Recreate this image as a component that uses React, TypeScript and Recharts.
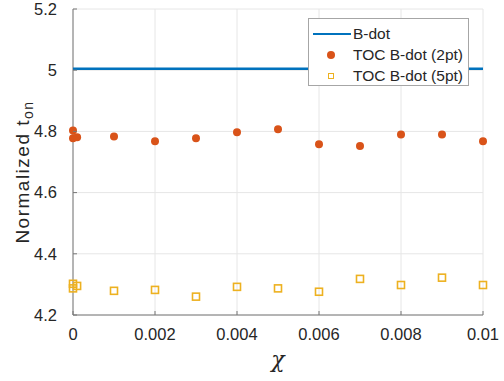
import { CartesianGrid, Scatter, ScatterChart, XAxis, YAxis } from "recharts";

const chiValues = [0, 0, 0.0001, 0.001, 0.002, 0.003, 0.004, 0.005, 0.006, 0.007, 0.008, 0.009, 0.01];
const toc2pt = [4.803, 4.778, 4.781, 4.783, 4.768, 4.778, 4.797, 4.807, 4.758, 4.752, 4.79, 4.79, 4.768];
const toc5pt = [4.302, 4.287, 4.295, 4.279, 4.282, 4.26, 4.292, 4.287, 4.276, 4.318, 4.298, 4.322, 4.298];
const bdotChi = [0, 0.01];
const bdotValue = [5.005, 5.005];

const xTicks = [0, 0.002, 0.004, 0.006, 0.008, 0.01];
const yTicks = [4.2, 4.4, 4.6, 4.8, 5, 5.2];
const legendLabels = ["B-dot", "TOC B-dot (2pt)", "TOC B-dot (5pt)"];

const BLUE = "#0072BD";
const ORANGE = "#D95319";
const YELLOW = "#EDB120";
const TEXT = "#262626";
const FONT = "'Liberation Sans', Arial, sans-serif";
const X_MARGIN = 13;
const Y_MARGIN = 16;

const bdotData = bdotChi.map((x, i) => ({ x, y: bdotValue[i] }));
const data2pt = chiValues.map((x, i) => ({ x, y: toc2pt[i] }));
const data5pt = chiValues.map((x, i) => ({ x, y: toc5pt[i] }));

const Dot = (p: any) => <circle cx={p.cx} cy={p.cy} r={4} fill={ORANGE} />;
const Square = (p: any) => (
  <rect x={p.cx - 3.5} y={p.cy - 3.5} width={7} height={7} fill="none" stroke={YELLOW} strokeWidth={1.6} />
);
const NoMark = () => <g />;

// MATLAB-style ticks point inward
const XTick = (p: any) => {
  const axisY = p.y - X_MARGIN;
  return (
    <g>
      <line x1={p.x} x2={p.x} y1={axisY} y2={axisY - 4} stroke="#777" />
      <text x={p.x} y={p.y} dy="0.71em" textAnchor="middle" fill={TEXT} fontSize={16.5} fontFamily={FONT}>
        {String(p.payload.value)}
      </text>
    </g>
  );
};

const YTick = (p: any) => {
  const axisX = p.x + Y_MARGIN;
  return (
    <g>
      <line x1={axisX} x2={axisX + 4} y1={p.y} y2={p.y} stroke="#777" />
      <text x={p.x} y={p.y} dy="0.35em" textAnchor="end" fill={TEXT} fontSize={16.5} fontFamily={FONT}>
        {String(p.payload.value)}
      </text>
    </g>
  );
};

function LegendBox() {
  const rows = [15, 36, 57];
  const samples = [
    <div style={{ position: "absolute", left: 4, top: -1.25, width: 38, height: 2.5, background: BLUE }} />,
    <div style={{ position: "absolute", left: 18, top: -4, width: 8, height: 8, borderRadius: 4, background: ORANGE }} />,
    <div style={{ position: "absolute", left: 18.5, top: -3.5, width: 4.6, height: 4.6, border: `1.6px solid ${YELLOW}` }} />,
  ];
  return (
    <div
      style={{
        position: "absolute",
        left: 308,
        top: 18,
        width: 161,
        height: 68,
        boxSizing: "border-box",
        background: "#fff",
        border: "1px solid #a6a6a6",
        fontFamily: FONT,
        fontSize: 15.5,
        color: TEXT,
      }}
    >
      {legendLabels.map((label, i) => (
        <div key={label} style={{ position: "absolute", left: 0, top: rows[i], width: "100%", height: 0 }}>
          {samples[i]}
          <span style={{ position: "absolute", left: 44, top: -9, lineHeight: "18px", whiteSpace: "nowrap" }}>
            {label}
          </span>
        </div>
      ))}
    </div>
  );
}

export default function App() {
  return (
    <div style={{ position: "fixed", left: 0, top: 0, width: 504, height: 381, background: "#fff" }}>
      <ScatterChart width={504} height={381} margin={{ top: 9, right: 21, left: 0, bottom: 0 }}>
        <CartesianGrid stroke="#e6e6e6" />
        <XAxis
          type="number"
          dataKey="x"
          domain={[0, 0.01]}
          ticks={xTicks}
          height={66}
          tickSize={0}
          tickMargin={X_MARGIN}
          axisLine={{ stroke: "#777" }}
          tick={XTick}
          label={{
            content: () => (
              <text x={278} y={367} textAnchor="middle" fontFamily="'DejaVu Serif', serif" fontStyle="italic" fontSize={22} fill={TEXT}>
                χ
              </text>
            ),
          }}
        />
        <YAxis
          type="number"
          dataKey="y"
          domain={[4.2, 5.2]}
          ticks={yTicks}
          width={73}
          tickSize={0}
          tickMargin={Y_MARGIN}
          axisLine={{ stroke: "#777" }}
          tick={YTick}
          label={{
            content: () => (
              <text transform="translate(29,172) rotate(-90)" textAnchor="middle" fontFamily={FONT} fontSize={19} letterSpacing={1.5} fill={TEXT}>
                Normalized t<tspan fontSize={14} dy={4}>on</tspan>
              </text>
            ),
          }}
        />
        <Scatter
          name="B-dot"
          data={bdotData}
          line={{ stroke: BLUE, strokeWidth: 2.5 }}
          shape={NoMark}
          isAnimationActive={false}
        />
        <Scatter name="TOC B-dot (2pt)" data={data2pt} shape={Dot} isAnimationActive={false} />
        <Scatter name="TOC B-dot (5pt)" data={data5pt} shape={Square} isAnimationActive={false} />
      </ScatterChart>
      <LegendBox />
    </div>
  );
}
